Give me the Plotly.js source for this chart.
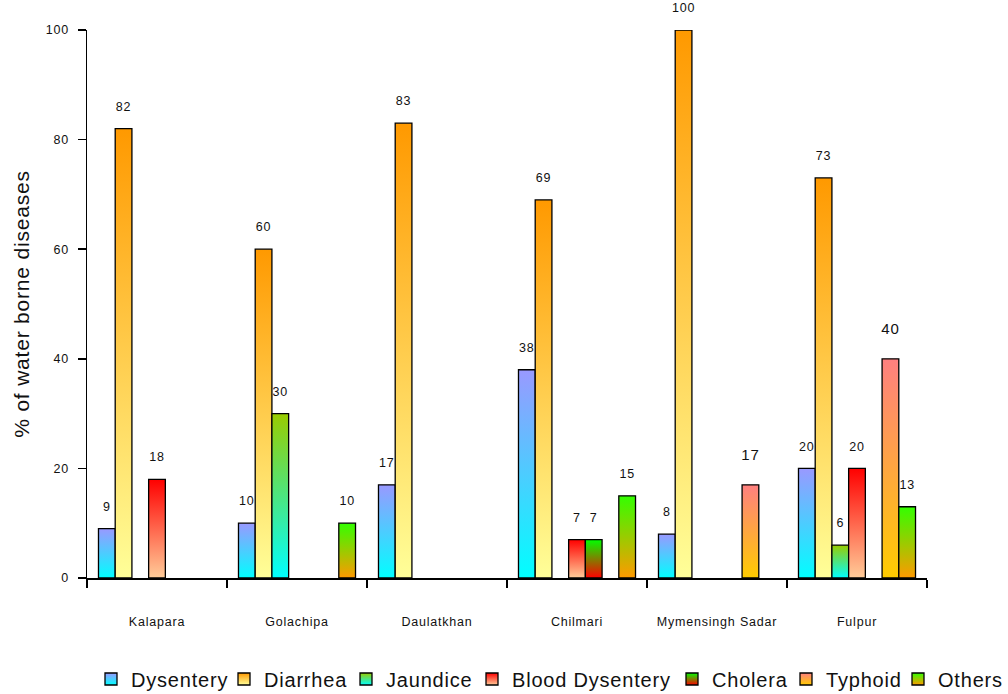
<!DOCTYPE html>
<html>
<head>
<meta charset="utf-8">
<script src="https://cdn.plot.ly/plotly-3.0.1.min.js"></script>
<style>
  html, body { margin: 0; padding: 0; background: #fff; }
  #chart { width: 1008px; height: 694px; }
  svg text { letter-spacing: 0.8px; }
</style>
</head>
<body>
<div id="chart"></div>
<script>
// Upazilas surveyed
const places = ['Kalapara', 'Golachipa', 'Daulatkhan', 'Chilmari', 'Mymensingh Sadar', 'Fulpur'];

// Share of water borne diseases (%) per upazila; null = not reported
const dysentery      = [9, 10, 17, 38, 8, 20];
const diarrhea       = [82, 60, 83, 69, 100, 73];
const jaundice       = [null, 30, null, null, null, 6];
const bloodDysentery = [18, null, null, 7, null, 20];
const cholera        = [null, null, null, 7, null, null];
const typhoid        = [null, null, null, null, 17, 40];
const others         = [null, 10, null, 15, null, 13];

const seriesNames = ['Dysentery', 'Diarrhea', 'Jaundice', 'Blood Dysentery', 'Cholera', 'Typhoid', 'Others'];
const seriesValues = [dysentery, diarrhea, jaundice, bloodDysentery, cholera, typhoid, others];

// Vertical gradient per series: colour at the top of a bar, colour at its base
const topColors    = ['#9999FF', '#FF9900', '#99CC00', '#FF0000', '#00FF00', '#FF8080', '#33FF00'];
const bottomColors = ['#00FFFF', '#FFFF99', '#00FFFF', '#FFCC99', '#FF0000', '#FFCC00', '#FF9900'];
// Solid colour used where a gradient is not painted
const midColors    = ['#4DCCFF', '#FFCC4D', '#4DE680', '#FF664D', '#808000', '#FFA640', '#99CC00'];

// Typhoid values are printed in a larger size
const bigLabelSeries = 'Typhoid';

// Left edge of each legend entry, in page pixels (one legend box per series)
const legendLeft = [91, 224, 346, 472, 672, 786, 898];

const bars = seriesNames.map((name, i) => ({
  type: 'bar',
  name: name,
  x: places,
  y: seriesValues[i],
  legend: i === 0 ? 'legend' : 'legend' + (i + 1),
  marker: { color: midColors[i], line: { color: '#000', width: 1.3 } },
  hoverinfo: 'skip'
}));

const labels = seriesNames.map((name, i) => {
  const big = name === bigLabelSeries;
  return {
    type: 'scatter',
    mode: 'markers+text',
    x: places,
    y: seriesValues[i],
    text: seriesValues[i].map(v => v === null ? '' : String(v)),
    textposition: 'top center',
    textfont: { family: 'Liberation Sans, Arial, sans-serif', color: '#111', size: big ? 15 : 12.5 },
    marker: { size: big ? 32 : 22, color: 'rgba(0,0,0,0)' },
    showlegend: false,
    hoverinfo: 'skip',
    cliponaxis: false
  };
});

const layout = {
  width: 1008,
  height: 694,
  paper_bgcolor: '#fff',
  plot_bgcolor: '#fff',
  font: { family: 'Liberation Sans, Arial, sans-serif', color: '#111' },
  margin: { l: 87, r: 81, t: 30, b: 116, autoexpand: false },
  barmode: 'group',
  bargap: 0.164,
  bargroupgap: 0,
  scattermode: 'group',
  scattergap: 0.164,
  hovermode: false,
  showlegend: true,
  xaxis: {
    type: 'category',
    showline: true,
    linecolor: '#000',
    linewidth: 1.5,
    ticks: 'outside',
    tickson: 'boundaries',
    ticklen: 8,
    tickwidth: 1.5,
    tickcolor: '#000',
    ticklabelstandoff: 31,
    tickfont: { size: 12.5, color: '#111' },
    showgrid: false,
    zeroline: false,
    fixedrange: true
  },
  yaxis: {
    range: [0, 100],
    tickvals: [0, 20, 40, 60, 80, 100],
    showline: true,
    linecolor: '#000',
    linewidth: 1.5,
    ticks: 'outside',
    ticklen: 8,
    tickwidth: 1.5,
    tickcolor: '#000',
    ticklabelstandoff: 6,
    tickfont: { size: 12.5, color: '#111' },
    showgrid: false,
    zeroline: false,
    fixedrange: true,
    title: { text: '% of water borne diseases', font: { size: 21, color: '#111' }, standoff: 10 }
  }
};

// One single-entry legend per series, laid out in a row under the chart
seriesNames.forEach((name, i) => {
  const key = i === 0 ? 'legend' : 'legend' + (i + 1);
  layout[key] = {
    orientation: 'h',
    xref: 'container',
    yref: 'container',
    x: legendLeft[i] / 1008,
    xanchor: 'left',
    y: 0.0216,
    yanchor: 'middle',
    bgcolor: 'rgba(0,0,0,0)',
    font: { size: 20, color: '#111' },
    itemclick: false,
    itemdoubleclick: false
  };
});

const SVG_NS = 'http://www.w3.org/2000/svg';

// Gradient definitions, one per series (created once)
function ensureGradients() {
  if (document.getElementById('series-grad-0')) return;
  const holder = document.createElementNS(SVG_NS, 'svg');
  holder.setAttribute('width', '0');
  holder.setAttribute('height', '0');
  holder.style.position = 'absolute';
  const defs = document.createElementNS(SVG_NS, 'defs');
  holder.appendChild(defs);
  seriesNames.forEach((name, i) => {
    const g = document.createElementNS(SVG_NS, 'linearGradient');
    g.setAttribute('id', 'series-grad-' + i);
    g.setAttribute('x1', '0'); g.setAttribute('y1', '0');
    g.setAttribute('x2', '0'); g.setAttribute('y2', '1');
    [[0, topColors[i]], [1, bottomColors[i]]].forEach(([off, col]) => {
      const s = document.createElementNS(SVG_NS, 'stop');
      s.setAttribute('offset', off);
      s.setAttribute('stop-color', col);
      g.appendChild(s);
    });
    defs.appendChild(g);
  });
  document.body.insertBefore(holder, document.body.firstChild);
}

// Paint each series' bars and legend swatch with its vertical gradient
function applyGradients() {
  const gd = document.getElementById('chart');
  ensureGradients();
  gd.querySelectorAll('.barlayer .trace').forEach((t, i) => {
    t.querySelectorAll('path').forEach(p => { p.style.fill = 'url(#series-grad-' + i + ')'; });
  });
  gd.querySelectorAll('g.traces').forEach((item, k) => {
    const label = item.querySelector('text');
    let idx = label ? seriesNames.indexOf(label.textContent.trim()) : -1;
    if (idx < 0) idx = k;
    if (idx >= seriesNames.length) return;
    item.querySelectorAll('path').forEach(p => {
      p.style.fill = 'url(#series-grad-' + idx + ')';
      p.setAttribute('fill', 'url(#series-grad-' + idx + ')');
    });
  });
}

const gdEl = document.getElementById('chart');
Plotly.newPlot(gdEl, bars.concat(labels), layout, { displayModeBar: false, staticPlot: true })
  .then(() => {
    applyGradients();
    gdEl.on('plotly_afterplot', applyGradients);
    setTimeout(applyGradients, 0);
    setTimeout(applyGradients, 150);
  });
</script>
</body>
</html>
